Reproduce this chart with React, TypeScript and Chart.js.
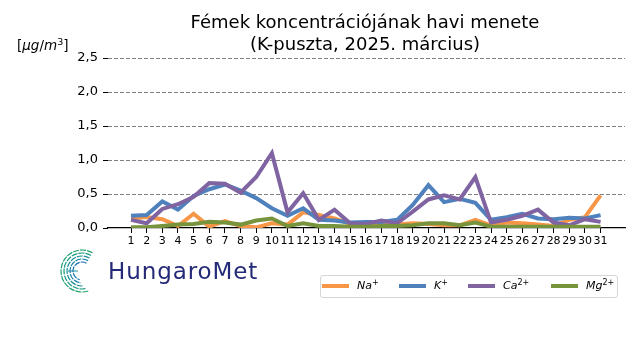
import React, { useEffect, useRef } from "react";
import { Chart, registerables } from "chart.js";

Chart.register(...registerables);

const days = [1,2,3,4,5,6,7,8,9,10,11,12,13,14,15,16,17,18,19,20,21,22,23,24,25,26,27,28,29,30,31];
const na = [0.14,0.16,0.13,0.03,0.21,0.02,0.10,0.03,0.01,0.07,0.05,0.23,0.19,0.14,0.06,0.04,0.05,0.05,0.07,0.06,0.04,0.04,0.12,0.04,0.08,0.07,0.05,0.03,0.12,0.16,0.48];
const k = [0.18,0.19,0.39,0.27,0.47,0.57,0.64,0.55,0.44,0.29,0.18,0.29,0.12,0.11,0.08,0.09,0.09,0.12,0.34,0.63,0.38,0.43,0.37,0.12,0.16,0.21,0.14,0.13,0.15,0.14,0.19];
const ca = [0.12,0.07,0.28,0.35,0.46,0.66,0.65,0.52,0.75,1.10,0.23,0.51,0.12,0.27,0.07,0.06,0.11,0.07,0.24,0.42,0.48,0.42,0.75,0.08,0.12,0.18,0.27,0.08,0.04,0.13,0.09];
const mg = [0.01,0.01,0.03,0.05,0.06,0.09,0.08,0.05,0.11,0.14,0.03,0.07,0.03,0.03,0.02,0.02,0.03,0.03,0.04,0.07,0.07,0.04,0.08,0.02,0.02,0.02,0.02,0.02,0.02,0.02,0.02];
const yTicks = [0, 0.5, 1.0, 1.5, 2.0, 2.5];

const colors = { na: "#F79646", k: "#4F81BD", ca: "#8064A2", mg: "#77933C" };

const FONT = "'DejaVu Sans', sans-serif";

function series(vals: number[]) {
  return days.map((d, i) => ({ x: d, y: vals[i] }));
}

export default function App() {
  const ref = useRef<HTMLCanvasElement | null>(null);
  useEffect(() => {
    if (!ref.current) return;
    const mk = (label: string, vals: number[], color: string, order: number) => ({
      label,
      data: series(vals),
      borderColor: color,
      backgroundColor: color,
      borderWidth: 4,
      pointRadius: 0,
      tension: 0,
      order,
    });
    const chart = new Chart(ref.current, {
      type: "line",
      data: {
        datasets: [
          mk("Na+", na, colors.na, 4),
          mk("K+", k, colors.k, 3),
          mk("Ca2+", ca, colors.ca, 2),
          mk("Mg2+", mg, colors.mg, 1),
        ],
      },
      options: {
        responsive: false,
        animation: false,
        devicePixelRatio: 1,
        layout: { padding: { left: 0, right: 15, top: 58, bottom: 0 } },
        plugins: { legend: { display: false }, title: { display: false }, tooltip: { enabled: false } },
        scales: {
          x: {
            type: "linear",
            min: -0.47,
            max: 32.56,
            afterBuildTicks: (s: any) => {
              s.ticks = days.map((d) => ({ value: d }));
            },
            afterFit: (s: any) => {
              s.height = 132;
            },
            ticks: {
              autoSkip: false,
              maxRotation: 0,
              padding: 2,
              color: "#000",
              font: { family: FONT, size: 11 },
              callback: (v: any) => String(v),
            },
            grid: { drawOnChartArea: false, drawTicks: true, tickLength: 5, tickColor: "#000" },
            border: { display: true, color: "#000", width: 1.2 },
          },
          y: {
            min: 0,
            max: 2.5,
            afterBuildTicks: (s: any) => {
              s.ticks = yTicks.map((v) => ({ value: v }));
            },
            afterFit: (s: any) => {
              s.width = 108;
            },
            ticks: {
              padding: 5,
              color: "#000",
              font: { family: FONT, size: 13 },
              callback: (v: any) => Number(v).toFixed(1).replace(".", ","),
            },
            grid: {
              color: (c: any) => (c.tick && c.tick.value === 0 ? "rgba(0,0,0,0)" : "#808080"),
              lineWidth: 1,
              tickLength: 5,
              tickColor: "#000",
              tickBorderDash: [],
            },
            border: { display: false, dash: [4, 2] },
          },
        },
      },
    } as any);
    return () => chart.destroy();
  }, []);

  const legendItems = [
    { name: "Na", sup: "+", color: colors.na, x: 322 },
    { name: "K", sup: "+", color: colors.k, x: 399 },
    { name: "Ca", sup: "2+", color: colors.ca, x: 468 },
    { name: "Mg", sup: "2+", color: colors.mg, x: 551 },
  ];

  const arcs = [
    { r: 21, c: "#1aa06a" },
    { r: 18, c: "#189a80" },
    { r: 15, c: "#178f95" },
    { r: 12, c: "#1680a8" },
    { r: 9, c: "#1a72b3" },
  ];

  return (
    <div style={{ position: "fixed", left: 0, top: 0, width: 640, height: 360, background: "#fff", fontFamily: FONT }}>
      <canvas ref={ref} width={640} height={360} style={{ position: "absolute", left: 0, top: 0, width: 640, height: 360 }} />
      <div style={{ position: "absolute", left: 0, width: 730, top: 11, textAlign: "center", fontSize: 18, lineHeight: "22px", color: "#000" }}>
        Fémek koncentrációjának havi menete
        <br />
        (K-puszta, 2025. március)
      </div>
      <div style={{ position: "absolute", left: 17, top: 36, fontSize: 13.5, lineHeight: "18px", color: "#000", whiteSpace: "nowrap" }}>
        [<i>μg</i>/<i>m</i><sup style={{ fontSize: 9.5, verticalAlign: "5px", lineHeight: 0 }}>3</sup>]
      </div>
      <div style={{ position: "absolute", left: 320, top: 275, width: 298, height: 23, border: "1px solid #d6d6d6", borderRadius: 3, boxSizing: "border-box" }} />
      {legendItems.map((it) => (
        <React.Fragment key={it.name}>
          <div style={{ position: "absolute", left: it.x, top: 284, width: 27, height: 3.5, background: it.color }} />
          <div style={{ position: "absolute", left: it.x + 35, top: 278, fontSize: 11, lineHeight: "16px", fontStyle: "italic", whiteSpace: "nowrap", color: "#000" }}>
            {it.name}
            <sup style={{ fontSize: 8, verticalAlign: "4px", lineHeight: 0, fontStyle: "normal" }}>{it.sup}</sup>
          </div>
        </React.Fragment>
      ))}
      <svg width={50} height={52} style={{ position: "absolute", left: 58, top: 246 }}>
        {arcs.map((a, i) => {
          const cx = 24, cy = 25;
          const a0 = (-60 * Math.PI) / 180;
          const a1 = (70 * Math.PI) / 180 + i * 0.15;
          const x0 = cx + a.r * Math.cos(a0), y0 = cy + a.r * Math.sin(a0);
          const x1 = cx + a.r * Math.cos(a1), y1 = cy + a.r * Math.sin(a1);
          return (
            <path key={i} d={`M ${x0} ${y0} A ${a.r} ${a.r} 0 1 0 ${x1} ${y1}`} fill="none" stroke={a.c} strokeWidth={1.2} strokeDasharray="6 1" />
          );
        })}
        <line x1={10} y1={25} x2={20} y2={25} stroke="#1a8aa0" strokeWidth={1} />
      </svg>
      <div style={{ position: "absolute", left: 108, top: 256, fontSize: 23, lineHeight: "30px", color: "#242a78", fontFamily: "'DejaVu Sans', sans-serif", letterSpacing: 0.9, whiteSpace: "nowrap" }}>
        HungaroMet
      </div>
    </div>
  );
}
